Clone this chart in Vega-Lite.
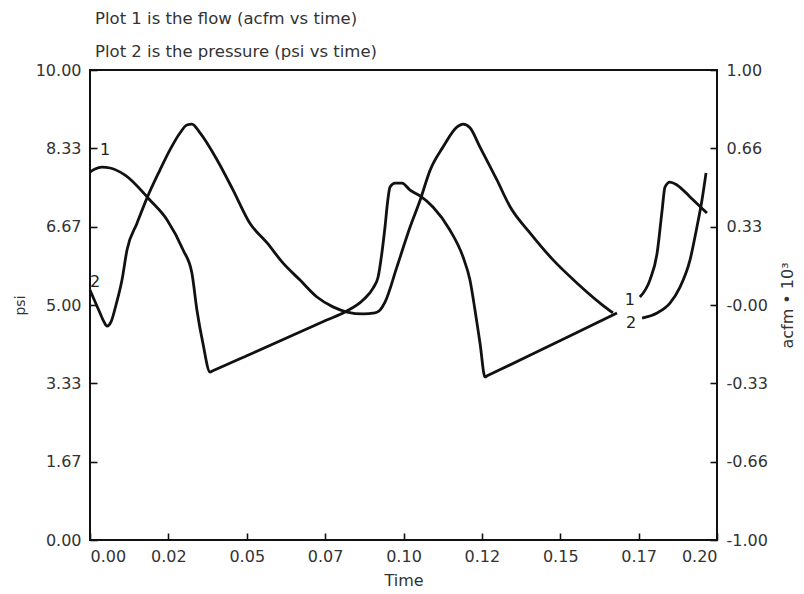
{
  "$schema": "https://vega.github.io/schema/vega-lite/v6.json",
  "width": 627,
  "height": 470,
  "autosize": {"type": "none"},
  "padding": {"left": 90, "top": 70, "right": 87, "bottom": 54},
  "background": "white",
  "config": {
    "view": {"stroke": "#111", "strokeWidth": 2},
    "font": "DejaVu Sans",
    "axis": {"labelFont": "DejaVu Sans", "titleFont": "DejaVu Sans", "labelFontSize": 16, "titleFontSize": 16, "titleFontWeight": "normal", "labelColor": "#333", "titleColor": "#333", "domain": false, "grid": false, "tickColor": "#111", "tickWidth": 1.6, "tickSize": 7, "offset": -7}
  },
  "title": {
    "text": ["Plot 1 is the flow (acfm vs time)", "Plot 2 is the pressure (psi vs time)"],
    "anchor": "start",
    "frame": "group",
    "dx": 5,
    "offset": 2,
    "lineHeight": 33,
    "font": "DejaVu Sans",
    "fontSize": 16.5,
    "fontWeight": "normal",
    "color": "#333"
  },
  "datasets": {
    "pressure": [
      {"seg": 1, "t": 0.0, "psi": 5.32},
      {"seg": 1, "t": 0.00096, "psi": 5.17},
      {"seg": 1, "t": 0.00319, "psi": 4.83},
      {"seg": 1, "t": 0.00447, "psi": 4.64},
      {"seg": 1, "t": 0.00542, "psi": 4.55},
      {"seg": 1, "t": 0.0067, "psi": 4.64},
      {"seg": 1, "t": 0.00829, "psi": 5.0},
      {"seg": 1, "t": 0.0102, "psi": 5.53},
      {"seg": 1, "t": 0.0118, "psi": 6.17},
      {"seg": 1, "t": 0.015, "psi": 6.74},
      {"seg": 1, "t": 0.0182, "psi": 7.28},
      {"seg": 1, "t": 0.0223, "psi": 7.87},
      {"seg": 1, "t": 0.0255, "psi": 8.3},
      {"seg": 1, "t": 0.0287, "psi": 8.66},
      {"seg": 1, "t": 0.0309, "psi": 8.83},
      {"seg": 1, "t": 0.0325, "psi": 8.85},
      {"seg": 1, "t": 0.0351, "psi": 8.66},
      {"seg": 1, "t": 0.0405, "psi": 8.09},
      {"seg": 1, "t": 0.0456, "psi": 7.45},
      {"seg": 1, "t": 0.051, "psi": 6.74},
      {"seg": 1, "t": 0.0565, "psi": 6.32},
      {"seg": 1, "t": 0.0616, "psi": 5.89},
      {"seg": 1, "t": 0.067, "psi": 5.53},
      {"seg": 1, "t": 0.0724, "psi": 5.17},
      {"seg": 1, "t": 0.0775, "psi": 4.96},
      {"seg": 1, "t": 0.082, "psi": 4.85},
      {"seg": 1, "t": 0.0871, "psi": 4.81},
      {"seg": 1, "t": 0.0909, "psi": 4.83},
      {"seg": 1, "t": 0.0925, "psi": 4.89},
      {"seg": 1, "t": 0.0941, "psi": 5.06},
      {"seg": 1, "t": 0.0979, "psi": 5.81},
      {"seg": 1, "t": 0.1021, "psi": 6.66},
      {"seg": 1, "t": 0.1053, "psi": 7.23},
      {"seg": 1, "t": 0.1085, "psi": 7.87},
      {"seg": 1, "t": 0.1126, "psi": 8.36},
      {"seg": 1, "t": 0.1171, "psi": 8.79},
      {"seg": 1, "t": 0.119, "psi": 8.85},
      {"seg": 1, "t": 0.1212, "psi": 8.77},
      {"seg": 1, "t": 0.1244, "psi": 8.36},
      {"seg": 1, "t": 0.1298, "psi": 7.66},
      {"seg": 1, "t": 0.134, "psi": 7.09},
      {"seg": 1, "t": 0.1404, "psi": 6.53},
      {"seg": 1, "t": 0.1477, "psi": 5.96},
      {"seg": 1, "t": 0.1553, "psi": 5.47},
      {"seg": 1, "t": 0.1627, "psi": 5.04},
      {"seg": 1, "t": 0.1668, "psi": 4.83},
      {"seg": 2, "t": 0.1761, "psi": 4.72},
      {"seg": 2, "t": 0.1809, "psi": 4.83},
      {"seg": 2, "t": 0.185, "psi": 5.04},
      {"seg": 2, "t": 0.1882, "psi": 5.38},
      {"seg": 2, "t": 0.1914, "psi": 5.96},
      {"seg": 2, "t": 0.1936, "psi": 6.66},
      {"seg": 2, "t": 0.1952, "psi": 7.23},
      {"seg": 2, "t": 0.1965, "psi": 7.81}
    ],
    "flow": [
      {"seg": 1, "t": 0.0, "acfm": 0.566},
      {"seg": 1, "t": 0.0016, "acfm": 0.579},
      {"seg": 1, "t": 0.0038, "acfm": 0.587},
      {"seg": 1, "t": 0.0064, "acfm": 0.583},
      {"seg": 1, "t": 0.0112, "acfm": 0.553},
      {"seg": 1, "t": 0.0191, "acfm": 0.447},
      {"seg": 1, "t": 0.0246, "acfm": 0.362},
      {"seg": 1, "t": 0.0297, "acfm": 0.234},
      {"seg": 1, "t": 0.0325, "acfm": 0.136},
      {"seg": 1, "t": 0.0341, "acfm": -0.021},
      {"seg": 1, "t": 0.036, "acfm": -0.162},
      {"seg": 1, "t": 0.0383, "acfm": -0.285},
      {"seg": 1, "t": 0.039, "acfm": -0.281},
      {"seg": 1, "t": 0.05, "acfm": -0.216},
      {"seg": 1, "t": 0.065, "acfm": -0.127},
      {"seg": 1, "t": 0.0755, "acfm": -0.064},
      {"seg": 1, "t": 0.0813, "acfm": -0.03},
      {"seg": 1, "t": 0.0871, "acfm": 0.021},
      {"seg": 1, "t": 0.0903, "acfm": 0.072},
      {"seg": 1, "t": 0.0919, "acfm": 0.119},
      {"seg": 1, "t": 0.0931, "acfm": 0.221},
      {"seg": 1, "t": 0.0941, "acfm": 0.332},
      {"seg": 1, "t": 0.095, "acfm": 0.447},
      {"seg": 1, "t": 0.0957, "acfm": 0.502},
      {"seg": 1, "t": 0.0973, "acfm": 0.519},
      {"seg": 1, "t": 0.0995, "acfm": 0.519},
      {"seg": 1, "t": 0.1021, "acfm": 0.489},
      {"seg": 1, "t": 0.1053, "acfm": 0.464},
      {"seg": 1, "t": 0.1094, "acfm": 0.417},
      {"seg": 1, "t": 0.1148, "acfm": 0.319},
      {"seg": 1, "t": 0.119, "acfm": 0.204},
      {"seg": 1, "t": 0.1212, "acfm": 0.106},
      {"seg": 1, "t": 0.1228, "acfm": -0.021},
      {"seg": 1, "t": 0.1244, "acfm": -0.162},
      {"seg": 1, "t": 0.126, "acfm": -0.306},
      {"seg": 1, "t": 0.1267, "acfm": -0.3015},
      {"seg": 1, "t": 0.14, "acfm": -0.216},
      {"seg": 1, "t": 0.155, "acfm": -0.119},
      {"seg": 1, "t": 0.1681, "acfm": -0.034},
      {"seg": 2, "t": 0.1754, "acfm": 0.034},
      {"seg": 2, "t": 0.1786, "acfm": 0.106},
      {"seg": 2, "t": 0.1809, "acfm": 0.221},
      {"seg": 2, "t": 0.1825, "acfm": 0.404},
      {"seg": 2, "t": 0.1834, "acfm": 0.502},
      {"seg": 2, "t": 0.185, "acfm": 0.523},
      {"seg": 2, "t": 0.1872, "acfm": 0.511},
      {"seg": 2, "t": 0.1914, "acfm": 0.46},
      {"seg": 2, "t": 0.1968, "acfm": 0.391}
    ],
    "labels": [
      {"t": 0.0048, "psi": 8.3, "label": "1"},
      {"t": 0.0016, "psi": 5.49, "label": "2"},
      {"t": 0.1722, "psi": 5.11, "label": "1"},
      {"t": 0.1726, "psi": 4.62, "label": "2"}
    ]
  },
  "encoding": {
    "x": {
      "field": "t",
      "type": "quantitative",
      "scale": {"domain": [0, 0.2], "nice": false, "zero": false},
      "axis": {
        "title": "Time",
        "values": [0, 0.025, 0.05, 0.075, 0.1, 0.125, 0.15, 0.175, 0.2],
        "labelExpr": "format(floor(datum.value*100+0.000001)/100, '.2f')",
        "labelDx": 5,
        "labelPadding": 8,
        "titlePadding": 8
      }
    }
  },
  "layer": [
    {
      "data": {"name": "pressure"},
      "mark": {"type": "line", "interpolate": "monotone", "color": "#111", "strokeWidth": 2.8},
      "encoding": {
        "y": {
          "field": "psi",
          "type": "quantitative",
          "scale": {"domain": [0, 10], "nice": false, "zero": false},
          "axis": {
            "orient": "left",
            "title": "psi",
            "titleFontSize": 14,
            "values": [0, 1.66667, 3.33333, 5, 6.66667, 8.33333, 10],
            "format": ".2f",
            "labelPadding": 9,
            "titlePadding": 8
          }
        },
        "detail": {"field": "seg", "type": "nominal"}
      }
    },
    {
      "data": {"name": "flow"},
      "mark": {"type": "line", "interpolate": "monotone", "color": "#111", "strokeWidth": 2.8},
      "encoding": {
        "y": {
          "field": "acfm",
          "type": "quantitative",
          "scale": {"domain": [-1, 1], "nice": false, "zero": false},
          "axis": {
            "orient": "right",
            "title": "acfm • 10³",
            "titleAngle": 270,
            "values": [-1, -0.66667, -0.33333, 0, 0.33333, 0.66667, 1],
            "labelExpr": "(datum.value < 0.0001 ? '-' : '') + format(floor(abs(datum.value)*100+0.000001)/100, '.2f')",
            "labelPadding": 9,
            "titlePadding": 28
          }
        },
        "detail": {"field": "seg", "type": "nominal"}
      }
    },
    {
      "data": {"name": "labels"},
      "mark": {"type": "text", "font": "DejaVu Sans", "fontSize": 16, "color": "#222", "align": "center", "baseline": "middle"},
      "encoding": {
        "y": {"field": "psi", "type": "quantitative", "scale": {"domain": [0, 10], "nice": false, "zero": false}, "axis": null},
        "text": {"field": "label", "type": "nominal"}
      }
    }
  ],
  "resolve": {"scale": {"y": "independent"}, "axis": {"y": "independent"}}
}
